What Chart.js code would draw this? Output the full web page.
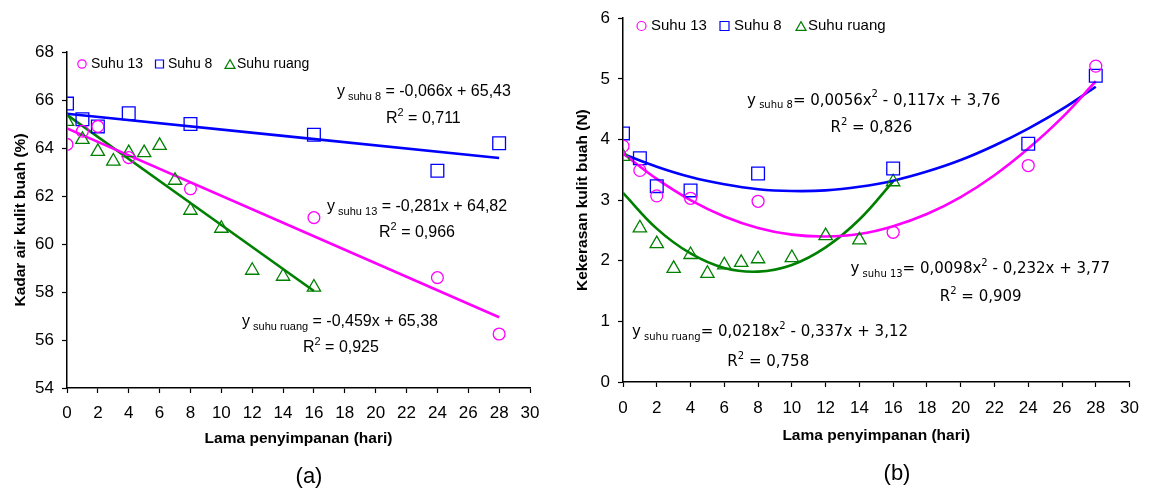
<!DOCTYPE html>
<html>
<head>
<meta charset="utf-8">
<script src="https://cdn.jsdelivr.net/npm/chart.js@4.4.1/dist/chart.umd.min.js"></script>
<style>
  body { margin: 0; background: #fff; }
  #wrap { position: relative; width: 1150px; height: 489px; overflow: hidden; }
  canvas { position: absolute; top: 0; }
  #chartA { left: 0; }
  #chartB { left: 570px; }
  .panel-label {
    position: absolute; font: 22px "Liberation Sans", Arial, sans-serif;
    line-height: 1; transform: translate(-50%, -50%); color: #000;
  }
</style>
</head>
<body>
<div id="wrap">
  <canvas id="chartA" width="570" height="489"></canvas>
  <canvas id="chartB" width="580" height="489"></canvas>
  <div class="panel-label" style="left:309px; top:476px">(a)</div>
  <div class="panel-label" style="left:897px; top:473px">(b)</div>
</div>
<script>
// ---- (a) kadar air kulit buah (%) ----
const hariA = [0, 1, 2, 4, 8, 16, 24, 28];
const kadarSuhu13 = [64.15, 64.7, 64.9, 63.6, 62.3, 61.1, 58.6, 56.25];
const kadarSuhu8 = [65.85, 65.2, 64.9, 65.45, 65.0, 64.55, 63.05, 64.2];
const hariRuang = [0, 1, 2, 3, 4, 5, 6, 7, 8, 10, 12, 14, 16];
const kadarRuang = [65.1, 64.35, 63.85, 63.45, 63.8, 63.8, 64.1, 62.65, 61.4, 60.65, 58.9, 58.65, 58.2];

// garis trend linear (ujung awal & akhir)
const trendHari = [0, 28];
const trendHariRuang = [0, 16];
const trendKadar13 = [64.82, 56.95];
const trendKadar8 = [65.43, 63.58];
const trendKadarRuang = [65.38, 58.04];

// ---- (b) kekerasan kulit buah (N) ----
const hariB = [0, 1, 2, 4, 8, 16, 24, 28];
const kerasSuhu13 = [3.89, 3.49, 3.07, 3.03, 2.98, 2.47, 3.57, 5.21];
const kerasSuhu8 = [4.1, 3.69, 3.23, 3.16, 3.44, 3.52, 3.93, 5.05];
const kerasRuang = [3.72, 2.54, 2.28, 1.87, 2.1, 1.79, 1.93, 1.97, 2.03, 2.05, 2.41, 2.34, 3.3];

// kurva polinomial
const fitHari = [0, 2, 4, 6, 8, 10, 12, 14, 16, 18, 20, 22, 24, 26, 28];
const fitHariRuang = [0, 2, 4, 6, 8, 10, 12, 14, 16];
const fitKeras13 = [3.77, 3.35, 3.0, 2.73, 2.54, 2.43, 2.4, 2.44, 2.57, 2.77, 3.05, 3.41, 3.85, 4.36, 4.96];
const fitKeras8 = [3.76, 3.55, 3.38, 3.26, 3.18, 3.15, 3.16, 3.22, 3.32, 3.47, 3.66, 3.9, 4.18, 4.5, 4.87];
const fitKerasRuang = [3.12, 2.53, 2.12, 1.88, 1.82, 1.93, 2.22, 2.68, 3.31];

// tick labels
const tickHari = [0, 2, 4, 6, 8, 10, 12, 14, 16, 18, 20, 22, 24, 26, 28, 30];
const tickKadar = [54, 56, 58, 60, 62, 64, 66, 68];
const tickKeras = [0, 1, 2, 3, 4, 5, 6];

const MAGENTA = '#FF00FF';
const BLUE = '#0000FF';
const GREEN = '#008000';

const pts = (xs, ys) => xs.map((x, i) => ({ x, y: ys[i] }));

function markerSet(label, xs, ys, color, style, radius) {
  return {
    label, data: pts(xs, ys), showLine: false,
    pointStyle: style, pointRadius: radius,
    pointBorderColor: color, pointBackgroundColor: 'rgba(0,0,0,0)',
    pointBorderWidth: 1.3, order: 0
  };
}

function lineSet(xs, ys, color) {
  return {
    label: '', data: pts(xs, ys), showLine: true, fill: false,
    borderColor: color, borderWidth: 2.6, pointRadius: 0,
    tension: 0.4, order: 1
  };
}

function drawMarker(ctx, style, x, y, r, color) {
  ctx.beginPath();
  if (style === 'circle') {
    ctx.arc(x, y, r, 0, Math.PI * 2);
  } else if (style === 'rect') {
    ctx.rect(x - r, y - r, r * 2, r * 2);
  } else {
    const yc = y + r / 4;
    ctx.moveTo(x, yc - r);
    ctx.lineTo(x + r * Math.sqrt(3) / 2, yc + r / 2);
    ctx.lineTo(x - r * Math.sqrt(3) / 2, yc + r / 2);
    ctx.closePath();
  }
  ctx.strokeStyle = color;
  ctx.lineWidth = 1.2;
  ctx.stroke();
}

function drawRuns(ctx, runs, x, y, mainFont, smallFont) {
  runs.forEach(([text, kind]) => {
    ctx.font = kind ? smallFont : mainFont;
    const dy = kind === 'sub' ? 5 : kind === 'sup' ? -6 : 0;
    ctx.fillText(text, x, y + dy);
    x += ctx.measureText(text).width;
  });
}

// legend + persamaan di dalam area plot
const overlay = {
  id: 'overlay',
  afterDraw(chart, args, opts) {
    const ctx = chart.ctx;
    ctx.save();
    ctx.textBaseline = 'middle';
    ctx.textAlign = 'left';
    ctx.fillStyle = '#000';
    opts.legend.forEach(item => {
      const ds = chart.data.datasets[item.ds];
      drawMarker(ctx, ds.pointStyle, item.mx, opts.legendY, item.r, ds.pointBorderColor);
      ctx.font = opts.legendFont;
      ctx.fillStyle = '#000';
      ctx.fillText(ds.label, item.tx, opts.legendY);
    });
    const sx = chart.scales.x, sy = chart.scales.y;
    opts.notes.forEach(n => {
      drawRuns(ctx, n.runs, sx.getPixelForValue(n.x), sy.getPixelForValue(n.y), opts.noteFont, opts.smallFont);
    });
    ctx.restore();
  }
};

function axisX(pad, height) {
  return {
    type: 'linear',
    min: tickHari[0], max: tickHari[tickHari.length - 1],
    ticks: { stepSize: tickHari[1] - tickHari[0], color: '#000', padding: pad,
      font: { family: '"Liberation Sans", Arial', size: 17 } },
    grid: { drawOnChartArea: false, drawTicks: true, tickLength: 5, tickColor: '#000', tickWidth: 1.2 },
    border: { display: true, color: '#000', width: 1.5 },
    title: { display: true, text: 'Lama penyimpanan (hari)', color: '#000', padding: { top: 0, bottom: 0 },
      font: { family: '"Liberation Sans", Arial', size: 15.5, weight: 'bold' } },
    afterFit: s => { s.height = height; }
  };
}

function axisY(ticks, title, width) {
  return {
    type: 'linear',
    min: ticks[0], max: ticks[ticks.length - 1],
    ticks: { stepSize: ticks[1] - ticks[0], color: '#000', padding: 8,
      font: { family: '"Liberation Sans", Arial', size: 17 } },
    grid: { drawOnChartArea: false, drawTicks: true, tickLength: 5, tickColor: '#000', tickWidth: 1.2 },
    border: { display: true, color: '#000', width: 1.5 },
    title: { display: true, text: title, color: '#000', padding: { top: 0, bottom: 0 },
      font: { family: '"Liberation Sans", Arial', size: 15.5, weight: 'bold' } },
    afterFit: s => { s.width = width; }
  };
}

new Chart(document.getElementById('chartA'), {
  type: 'scatter',
  data: {
    datasets: [
      markerSet('Suhu 13', hariA, kadarSuhu13, MAGENTA, 'circle', 5.9),
      markerSet('Suhu 8', hariA, kadarSuhu8, BLUE, 'rect', 9),
      markerSet('Suhu ruang', hariRuang, kadarRuang, GREEN, 'triangle', 7.7),
      lineSet(trendHari, trendKadar13, MAGENTA),
      lineSet(trendHari, trendKadar8, BLUE),
      lineSet(trendHariRuang, trendKadarRuang, GREEN)
    ]
  },
  options: {
    responsive: false, animation: false, events: [],
    layout: { padding: { left: 11, right: 40, top: 52, bottom: 41 } },
    scales: { x: axisX(10, 60), y: axisY(tickKadar, 'Kadar air kulit buah (%)', 56) },
    plugins: {
      legend: { display: false }, tooltip: { enabled: false },
      overlay: {
        legendY: 64,
        legendFont: '14px "Liberation Sans", Arial',
        legend: [{ ds: 0, mx: 82, tx: 91, r: 4.2 }, { ds: 1, mx: 159.5, tx: 168, r: 4 }, { ds: 2, mx: 230, tx: 237, r: 5.8 }],
        noteFont: '16px "Liberation Sans", Arial',
        smallFont: '11px "Liberation Sans", Arial',
        notes: [
          { x: 17.49, y: 66.33, runs: [['y', ''], [' suhu 8', 'sub'], [' = -0,066x + 65,43', '']] },
          { x: 20.67, y: 65.21, runs: [['R', ''], ['2', 'sup'], [' = 0,711', '']] },
          { x: 16.85, y: 61.54, runs: [['y', ''], [' suhu 13', 'sub'], [' = -0,281x + 64,82', '']] },
          { x: 20.22, y: 60.46, runs: [['R', ''], ['2', 'sup'], [' = 0,966', '']] },
          { x: 11.34, y: 56.75, runs: [['y', ''], [' suhu ruang', 'sub'], [' = -0,459x + 65,38', '']] },
          { x: 15.29, y: 55.67, runs: [['R', ''], ['2', 'sup'], [' = 0,925', '']] }
        ]
      }
    }
  },
  plugins: [overlay]
});

new Chart(document.getElementById('chartB'), {
  type: 'scatter',
  data: {
    datasets: [
      markerSet('Suhu 13', hariB, kerasSuhu13, MAGENTA, 'circle', 6),
      markerSet('Suhu 8', hariB, kerasSuhu8, BLUE, 'rect', 9),
      markerSet('Suhu ruang', hariRuang, kerasRuang, GREEN, 'triangle', 7.7),
      lineSet(fitHari, fitKeras13, MAGENTA),
      lineSet(fitHari, fitKeras8, BLUE),
      lineSet(fitHariRuang, fitKerasRuang, GREEN)
    ]
  },
  options: {
    responsive: false, animation: false, events: [],
    layout: { padding: { left: 3, right: 17, top: 17, bottom: 44 } },
    scales: { x: axisX(11, 63), y: axisY(tickKeras, 'Kekerasan kulit buah (N)', 50) },
    plugins: {
      legend: { display: false }, tooltip: { enabled: false },
      overlay: {
        legendY: 26,
        legendFont: '15px "Liberation Sans", Arial',
        legend: [{ ds: 0, mx: 71.5, tx: 81, r: 4.5 }, { ds: 1, mx: 154.5, tx: 164, r: 4.5 }, { ds: 2, mx: 231, tx: 238, r: 5.8 }],
        noteFont: '15px "DejaVu Sans"',
        smallFont: '10px "DejaVu Sans"',
        notes: [
          { x: 7.35, y: 4.64, runs: [['y', ''], [' suhu 8', 'sub'], ['= 0,0056x', ''], ['2', 'sup'], [' - 0,117x + 3,76', '']] },
          { x: 12.29, y: 4.19, runs: [['R', ''], ['2', 'sup'], [' = 0,826', '']] },
          { x: 13.47, y: 1.86, runs: [['y', ''], [' suhu 13', 'sub'], ['= 0,0098x', ''], ['2', 'sup'], [' - 0,232x + 3,77', '']] },
          { x: 18.76, y: 1.4, runs: [['R', ''], ['2', 'sup'], [' = 0,909', '']] },
          { x: 0.53, y: 0.82, runs: [['y', ''], [' suhu ruang', 'sub'], ['= 0,0218x', ''], ['2', 'sup'], [' - 0,337x + 3,12', '']] },
          { x: 6.18, y: 0.33, runs: [['R', ''], ['2', 'sup'], [' = 0,758', '']] }
        ]
      }
    }
  },
  plugins: [overlay]
});
</script>
</body>
</html>
